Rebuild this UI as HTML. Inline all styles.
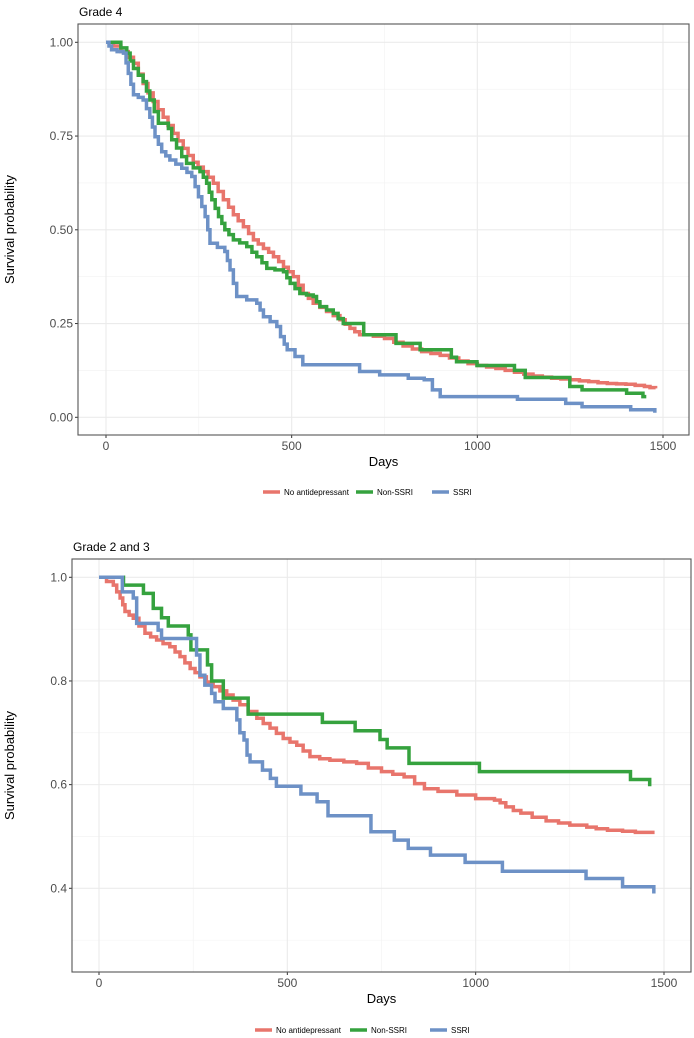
<!DOCTYPE html>
<html><head><meta charset="utf-8"><style>
body{margin:0;background:#fff;}
svg{display:block;font-family:"Liberation Sans",sans-serif;}
</style></head><body>
<svg id="s" width="694" height="1038"></svg>
<script>
// Grade 4 data (day, survival)
const g4Red=[[0,1],[20,0.99],[40,0.975],[60,0.96],[74,0.944],[87,0.915],[100,0.89],[113,0.865],[127,0.842],[140,0.82],[154,0.8],[167,0.778],[181,0.757],[194,0.737],[208,0.717],[221,0.698],[235,0.68],[248,0.667],[262,0.655],[275,0.64],[289,0.624],[302,0.602],[316,0.58],[330,0.56],[343,0.54],[356,0.524],[370,0.508],[384,0.49],[397,0.473],[410,0.462],[424,0.45],[438,0.44],[451,0.428],[465,0.415],[478,0.4],[491,0.388],[504,0.375],[518,0.352],[531,0.33],[545,0.317],[558,0.304],[576,0.293],[594,0.282],[612,0.271],[630,0.26],[644,0.248],[657,0.237],[670,0.228],[683,0.22],[720,0.216],[750,0.21],[775,0.2],[800,0.19],[825,0.182],[850,0.175],[875,0.17],[900,0.165],[925,0.158],[950,0.15],[975,0.143],[1000,0.138],[1025,0.134],[1050,0.13],[1075,0.125],[1100,0.12],[1125,0.115],[1150,0.11],[1175,0.107],[1200,0.104],[1225,0.102],[1250,0.1],[1275,0.097],[1300,0.095],[1325,0.092],[1350,0.09],[1375,0.089],[1400,0.088],[1425,0.085],[1450,0.082],[1465,0.079],[1480,0.077]];
const g4Green=[[0,1],[24,1],[40,0.985],[56,0.971],[65,0.95],[74,0.93],[87,0.912],[100,0.895],[109,0.87],[118,0.846],[130,0.815],[141,0.784],[168,0.77],[177,0.74],[190,0.718],[204,0.695],[217,0.677],[235,0.665],[253,0.655],[262,0.64],[271,0.624],[278,0.6],[285,0.58],[294,0.557],[303,0.535],[312,0.517],[320,0.5],[331,0.487],[343,0.473],[360,0.465],[379,0.455],[393,0.44],[406,0.428],[420,0.412],[433,0.397],[455,0.393],[478,0.388],[487,0.372],[496,0.357],[509,0.343],[522,0.33],[540,0.326],[558,0.322],[567,0.308],[576,0.295],[594,0.286],[612,0.277],[625,0.263],[639,0.25],[684,0.25],[694,0.22],[760,0.22],[781,0.197],[846,0.18],[912,0.18],[930,0.16],[944,0.148],[999,0.138],[1086,0.138],[1100,0.125],[1129,0.106],[1238,0.106],[1249,0.082],[1282,0.073],[1391,0.073],[1402,0.064],[1446,0.055],[1455,0.055]];
const g4Blue=[[0,1],[8,0.99],[15,0.98],[30,0.975],[47,0.971],[54,0.945],[60,0.917],[67,0.888],[74,0.86],[87,0.853],[100,0.846],[109,0.823],[118,0.8],[125,0.774],[132,0.748],[141,0.728],[150,0.708],[161,0.697],[172,0.686],[188,0.675],[204,0.664],[218,0.653],[231,0.642],[240,0.615],[249,0.588],[258,0.562],[267,0.535],[274,0.5],[280,0.464],[300,0.453],[320,0.442],[327,0.418],[334,0.393],[343,0.357],[352,0.322],[379,0.313],[406,0.304],[415,0.286],[424,0.268],[442,0.255],[460,0.242],[470,0.215],[480,0.195],[488,0.18],[509,0.162],[530,0.14],[661,0.14],[683,0.122],[737,0.113],[814,0.104],[857,0.1],[879,0.073],[900,0.055],[1108,0.048],[1238,0.037],[1282,0.028],[1413,0.02],[1478,0.012]];
// Grade 2 and 3 data
const g23Red=[[0,1],[20,0.992],[38,0.985],[47,0.972],[56,0.96],[63,0.947],[69,0.934],[80,0.927],[91,0.921],[106,0.906],[122,0.892],[137,0.885],[153,0.879],[170,0.872],[188,0.866],[202,0.856],[215,0.847],[228,0.835],[242,0.824],[255,0.816],[268,0.808],[285,0.798],[303,0.789],[321,0.781],[339,0.773],[356,0.763],[374,0.754],[396,0.741],[419,0.728],[436,0.718],[454,0.709],[471,0.699],[489,0.689],[507,0.682],[525,0.676],[542,0.665],[560,0.654],[586,0.65],[613,0.647],[650,0.644],[684,0.641],[715,0.632],[750,0.625],[780,0.62],[810,0.615],[838,0.602],[864,0.592],[900,0.587],[950,0.58],[1000,0.573],[1050,0.57],[1065,0.565],[1080,0.557],[1100,0.55],[1120,0.545],[1150,0.537],[1187,0.53],[1220,0.526],[1250,0.522],[1295,0.518],[1320,0.515],[1350,0.512],[1390,0.51],[1424,0.508],[1475,0.508]];
const g23Green=[[0,1],[65,0.985],[118,0.969],[144,0.94],[166,0.922],[184,0.906],[237,0.889],[244,0.86],[288,0.831],[299,0.8],[330,0.767],[396,0.736],[593,0.72],[680,0.704],[746,0.687],[765,0.671],[823,0.641],[1010,0.625],[1411,0.61],[1462,0.597]];
const g23Blue=[[0,1],[62,0.972],[91,0.96],[100,0.911],[157,0.898],[166,0.882],[259,0.85],[268,0.811],[281,0.792],[299,0.776],[308,0.76],[330,0.747],[366,0.725],[374,0.7],[385,0.686],[393,0.657],[401,0.644],[434,0.628],[455,0.612],[471,0.597],[536,0.582],[579,0.567],[608,0.54],[722,0.509],[784,0.493],[821,0.477],[880,0.464],[972,0.45],[1071,0.433],[1293,0.419],[1390,0.403],[1473,0.39]];
const xTicks=[0,500,1000,1500];
const g4YTicks=[0,0.25,0.5,0.75,1.0];
const g4YLabels=["0.00","0.25","0.50","0.75","1.00"];
const g23YTicks=[0.4,0.6,0.8,1.0];
const g23YLabels=["0.4","0.6","0.8","1.0"];
const legendLabels=["No antidepressant","Non-SSRI","SSRI"];
const colors=["#e8756c","#35a23e","#6d91c6"];

const NS="http://www.w3.org/2000/svg";
const svg=document.getElementById('s');
function mk(tag,attrs,parent){const e=document.createElementNS(NS,tag);for(const k in attrs)e.setAttribute(k,attrs[k]);(parent||svg).appendChild(e);return e;}

function panel(p){
  const g=mk('g',{});
  
  
  const sx=d=>p.x0+(d-0)*(p.x1-p.x0)/1500;
  const sy=v=>p.yA+(v-p.vA)*(p.yB-p.yA)/(p.vB-p.vA);
  const t=mk('text',{x:p.L+1,y:p.T-8,'font-size':12,fill:'#000'},g);t.textContent=p.title;
  
  for(let i=0;i<xTicks.length-1;i++){const d=(xTicks[i]+xTicks[i+1])/2;mk('line',{x1:sx(d),x2:sx(d),y1:p.T,y2:p.B,stroke:'#f2f2f2','stroke-width':0.6},g);}
  for(let i=0;i<p.yt.length-1;i++){const v=(p.yt[i]+p.yt[i+1])/2;mk('line',{x1:p.L,x2:p.R,y1:sy(v),y2:sy(v),stroke:'#f2f2f2','stroke-width':0.6},g);}
  if(p.extraMinor!==undefined){mk('line',{x1:p.L,x2:p.R,y1:sy(p.extraMinor),y2:sy(p.extraMinor),stroke:'#f2f2f2','stroke-width':0.6},g);}
  xTicks.forEach(d=>{
    mk('line',{x1:sx(d),x2:sx(d),y1:p.T,y2:p.B,stroke:'#ebebeb','stroke-width':1.1},g);
    mk('line',{x1:sx(d),x2:sx(d),y1:p.B,y2:p.B+3,stroke:'#333','stroke-width':1},g);
    const l=mk('text',{x:sx(d),y:p.B+15,'font-size':12,'text-anchor':'middle',fill:'#4d4d4d'},g);l.textContent=d;
    
  });
  p.yt.forEach((v,i)=>{
    mk('line',{x1:p.L,x2:p.R,y1:sy(v),y2:sy(v),stroke:'#ebebeb','stroke-width':1.1},g);
    mk('line',{x1:p.L-3,x2:p.L,y1:sy(v),y2:sy(v),stroke:'#333','stroke-width':1},g);
    const l=mk('text',{x:p.L-5,y:sy(v)+4,'font-size':12,'text-anchor':'end',fill:'#4d4d4d'},g);l.textContent=p.yl[i];
    
  });
  p.series.forEach((s,si)=>{
    let d='M'+sx(s[0][0])+','+sy(s[0][1]);
    for(let i=1;i<s.length;i++){d+=' H'+sx(s[i][0])+' V'+sy(s[i][1]);}
    const path=mk('path',{d:d,fill:'none',stroke:colors[si],'stroke-width':3.5},g);
    
    
  });
  mk('rect',{x:p.L,y:p.T,width:p.R-p.L,height:p.B-p.T,fill:'none',stroke:'#555','stroke-width':1.1},g);
  const xt=mk('text',{x:(p.L+p.R)/2,y:p.B+31,'font-size':13,'text-anchor':'middle'},g);xt.textContent='Days';
  
  const cy=(p.T+p.B)/2;
  const yt=mk('text',{x:14,y:cy,'font-size':13,'text-anchor':'middle',transform:'rotate(-90 14 '+cy+')'},g);yt.textContent='Survival probability';
  
  p.leg.forEach((lx,i)=>{
    const e=mk('g',{},g);
    
    mk('line',{x1:lx,x2:lx+17,y1:p.legY,y2:p.legY,stroke:colors[i],'stroke-width':3.5},e);
    const tx=mk('text',{x:lx+21,y:p.legY+3,'font-size':8},e);tx.textContent=legendLabels[i];
  });
}
panel({name:'grade-4-panel',title:'Grade 4',L:78,R:689,T:24,B:435,x0:106,x1:663,yA:417.3,vA:0,yB:42.3,vB:1,yt:g4YTicks,yl:g4YLabels,series:[g4Red,g4Green,g4Blue],leg:[263,356,432],legY:492});
panel({name:'grade-2-3-panel',title:'Grade 2 and 3',L:72,R:691,T:559,B:972,x0:99,x1:664,yA:888.3,vA:0.4,yB:577.3,vB:1.0,yt:g23YTicks,yl:g23YLabels,extraMinor:0.3,series:[g23Red,g23Green,g23Blue],leg:[255,350,430],legY:1030});
</script>
</body></html>
